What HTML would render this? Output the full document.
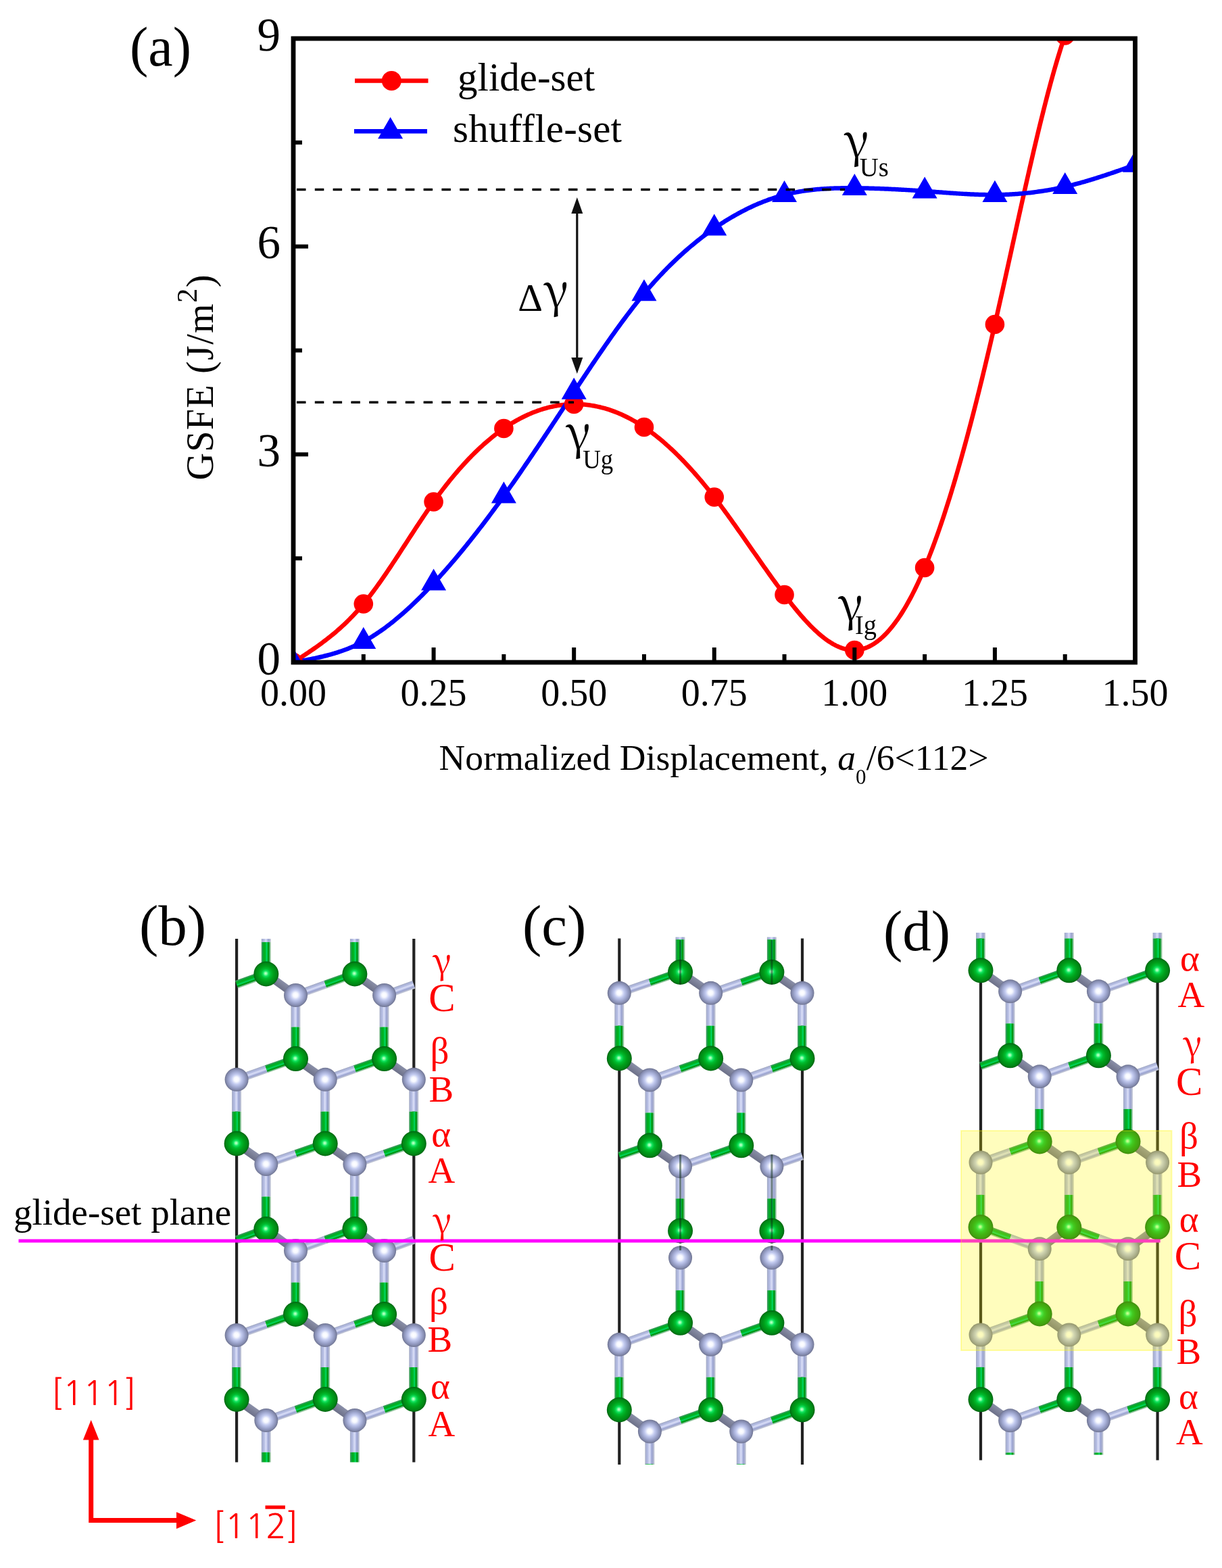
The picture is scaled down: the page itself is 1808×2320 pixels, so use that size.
<!DOCTYPE html>
<html><head><meta charset="utf-8"><style>
html,body{margin:0;padding:0;background:#fff;overflow:hidden;}
svg{display:block;}
</style></head><body>
<svg width="1808" height="2320" viewBox="0 0 1808 2320">
<defs><clipPath id="plotclip"><rect x="434" y="57" width="1245.5" height="923"/></clipPath>
<radialGradient id="gG" cx="0.5" cy="0.5" r="0.5" fx="0.48" fy="0.48">
 <stop offset="0" stop-color="#d0ffd8"/>
 <stop offset="0.1" stop-color="#80ffa0"/>
 <stop offset="0.22" stop-color="#10e35e"/>
 <stop offset="0.38" stop-color="#00bd30"/>
 <stop offset="0.6" stop-color="#00a01a"/>
 <stop offset="0.85" stop-color="#008716"/>
 <stop offset="1" stop-color="#006410"/>
</radialGradient>
<radialGradient id="gS" cx="0.5" cy="0.5" r="0.5" fx="0.49" fy="0.49">
 <stop offset="0" stop-color="#ffffff"/>
 <stop offset="0.2" stop-color="#f6f8ff"/>
 <stop offset="0.42" stop-color="#c3cbf0"/>
 <stop offset="0.66" stop-color="#a1a9d1"/>
 <stop offset="0.86" stop-color="#868db1"/>
 <stop offset="1" stop-color="#6f7491"/>
</radialGradient>
<linearGradient id="bG" x1="0" y1="0" x2="0" y2="1">
 <stop offset="0" stop-color="#4a9c5c"/>
 <stop offset="0.13" stop-color="#1fa050"/>
 <stop offset="0.22" stop-color="#00aa1e"/>
 <stop offset="0.44" stop-color="#00ba2a"/>
 <stop offset="0.55" stop-color="#00d868"/>
 <stop offset="0.64" stop-color="#00c040"/>
 <stop offset="0.72" stop-color="#009200"/>
 <stop offset="0.82" stop-color="#009c30"/>
 <stop offset="0.87" stop-color="#70b880"/>
 <stop offset="1" stop-color="#b4d4b8"/>
</linearGradient>
<linearGradient id="bS" x1="0" y1="0" x2="0" y2="1">
 <stop offset="0" stop-color="#a2a9c0"/>
 <stop offset="0.12" stop-color="#aab2d6"/>
 <stop offset="0.3" stop-color="#b6bee4"/>
 <stop offset="0.45" stop-color="#dadef6"/>
 <stop offset="0.58" stop-color="#c4cbee"/>
 <stop offset="0.72" stop-color="#9aa3d0"/>
 <stop offset="0.85" stop-color="#aab0d0"/>
 <stop offset="1" stop-color="#ccd0da"/>
</linearGradient>
<linearGradient id="bSd" x1="0" y1="0" x2="0" y2="1">
 <stop offset="0" stop-color="#8a8fa8"/>
 <stop offset="0.5" stop-color="#7c8098"/>
 <stop offset="1" stop-color="#6c7088"/>
</linearGradient>
<linearGradient id="bGd" x1="0" y1="0" x2="0" y2="1">
 <stop offset="0" stop-color="#007a14"/>
 <stop offset="0.5" stop-color="#006c10"/>
 <stop offset="1" stop-color="#005e0c"/>
</linearGradient>
</defs>
<rect width="100%" height="100%" fill="#fff"/>
<g clip-path="url(#plotclip)">
<path d="M434 980 L436.08 978.65 L438.16 977.3 L440.24 975.95 L442.32 974.6 L444.4 973.24 L446.48 971.88 L448.56 970.51 L450.63 969.14 L452.71 967.76 L454.79 966.37 L456.87 964.97 L458.95 963.56 L461.03 962.14 L463.11 960.71 L465.19 959.26 L467.27 957.8 L469.35 956.33 L471.43 954.84 L473.51 953.33 L475.59 951.81 L477.67 950.26 L479.74 948.7 L481.82 947.12 L483.9 945.52 L485.98 943.89 L488.06 942.24 L490.14 940.57 L492.22 938.87 L494.3 937.14 L496.38 935.39 L498.46 933.61 L500.54 931.81 L502.62 929.97 L504.7 928.1 L506.78 926.2 L508.85 924.27 L510.93 922.3 L513.01 920.3 L515.09 918.27 L517.17 916.2 L519.25 914.09 L521.33 911.94 L523.41 909.76 L525.49 907.53 L527.57 905.27 L529.65 902.96 L531.73 900.61 L533.81 898.21 L535.89 895.78 L537.96 893.29 L540.04 890.76 L542.12 888.19 L544.2 885.57 L546.28 882.91 L548.36 880.21 L550.44 877.47 L552.52 874.7 L554.6 871.89 L556.68 869.05 L558.76 866.17 L560.84 863.26 L562.92 860.32 L565 857.36 L567.08 854.37 L569.15 851.35 L571.23 848.31 L573.31 845.25 L575.39 842.17 L577.47 839.07 L579.55 835.95 L581.63 832.82 L583.71 829.68 L585.79 826.52 L587.87 823.35 L589.95 820.17 L592.03 816.98 L594.11 813.78 L596.19 810.58 L598.26 807.38 L600.34 804.17 L602.42 800.97 L604.5 797.76 L606.58 794.56 L608.66 791.37 L610.74 788.17 L612.82 784.99 L614.9 781.81 L616.98 778.65 L619.06 775.49 L621.14 772.35 L623.22 769.23 L625.3 766.12 L627.37 763.03 L629.45 759.95 L631.53 756.9 L633.61 753.87 L635.69 750.87 L637.77 747.89 L639.85 744.94 L641.93 742.01 L644.01 739.12 L646.09 736.26 L648.17 733.42 L650.25 730.62 L652.33 727.84 L654.41 725.1 L656.48 722.38 L658.56 719.7 L660.64 717.04 L662.72 714.42 L664.8 711.82 L666.88 709.25 L668.96 706.72 L671.04 704.21 L673.12 701.73 L675.2 699.28 L677.28 696.87 L679.36 694.48 L681.44 692.12 L683.52 689.79 L685.6 687.49 L687.67 685.22 L689.75 682.98 L691.83 680.77 L693.91 678.59 L695.99 676.44 L698.07 674.31 L700.15 672.22 L702.23 670.16 L704.31 668.12 L706.39 666.12 L708.47 664.15 L710.55 662.2 L712.63 660.29 L714.71 658.4 L716.78 656.54 L718.86 654.72 L720.94 652.92 L723.02 651.15 L725.1 649.41 L727.18 647.7 L729.26 646.02 L731.34 644.37 L733.42 642.75 L735.5 641.16 L737.58 639.6 L739.66 638.06 L741.74 636.56 L743.82 635.09 L745.89 633.64 L747.97 632.23 L750.05 630.84 L752.13 629.48 L754.21 628.15 L756.29 626.86 L758.37 625.59 L760.45 624.35 L762.53 623.13 L764.61 621.95 L766.69 620.8 L768.77 619.67 L770.85 618.58 L772.93 617.51 L775.01 616.47 L777.08 615.46 L779.16 614.48 L781.24 613.53 L783.32 612.61 L785.4 611.71 L787.48 610.85 L789.56 610.01 L791.64 609.2 L793.72 608.42 L795.8 607.67 L797.88 606.95 L799.96 606.25 L802.04 605.59 L804.12 604.95 L806.19 604.34 L808.27 603.76 L810.35 603.2 L812.43 602.68 L814.51 602.18 L816.59 601.71 L818.67 601.27 L820.75 600.86 L822.83 600.47 L824.91 600.11 L826.99 599.79 L829.07 599.48 L831.15 599.21 L833.23 598.96 L835.3 598.75 L837.38 598.56 L839.46 598.39 L841.54 598.26 L843.62 598.15 L845.7 598.07 L847.78 598.02 L849.86 597.99 L851.94 598 L854.02 598.03 L856.1 598.09 L858.18 598.17 L860.26 598.28 L862.34 598.42 L864.41 598.59 L866.49 598.79 L868.57 599.01 L870.65 599.26 L872.73 599.54 L874.81 599.85 L876.89 600.19 L878.97 600.55 L881.05 600.94 L883.13 601.36 L885.21 601.81 L887.29 602.29 L889.37 602.79 L891.45 603.32 L893.53 603.88 L895.6 604.47 L897.68 605.09 L899.76 605.73 L901.84 606.41 L903.92 607.11 L906 607.84 L908.08 608.6 L910.16 609.39 L912.24 610.2 L914.32 611.05 L916.4 611.92 L918.48 612.82 L920.56 613.75 L922.64 614.71 L924.71 615.7 L926.79 616.72 L928.87 617.76 L930.95 618.84 L933.03 619.94 L935.11 621.08 L937.19 622.24 L939.27 623.43 L941.35 624.65 L943.43 625.9 L945.51 627.18 L947.59 628.49 L949.67 629.82 L951.75 631.19 L953.82 632.59 L955.9 634.01 L957.98 635.46 L960.06 636.95 L962.14 638.46 L964.22 640 L966.3 641.57 L968.38 643.17 L970.46 644.79 L972.54 646.45 L974.62 648.13 L976.7 649.84 L978.78 651.58 L980.86 653.35 L982.93 655.14 L985.01 656.96 L987.09 658.81 L989.17 660.68 L991.25 662.59 L993.33 664.51 L995.41 666.47 L997.49 668.45 L999.57 670.46 L1001.65 672.49 L1003.73 674.56 L1005.81 676.64 L1007.89 678.75 L1009.97 680.89 L1012.05 683.06 L1014.12 685.25 L1016.2 687.46 L1018.28 689.7 L1020.36 691.97 L1022.44 694.25 L1024.52 696.57 L1026.6 698.91 L1028.68 701.27 L1030.76 703.66 L1032.84 706.07 L1034.92 708.51 L1037 710.97 L1039.08 713.45 L1041.16 715.96 L1043.23 718.49 L1045.31 721.04 L1047.39 723.62 L1049.47 726.22 L1051.55 728.84 L1053.63 731.49 L1055.71 734.16 L1057.79 736.85 L1059.87 739.56 L1061.95 742.3 L1064.03 745.05 L1066.11 747.82 L1068.19 750.62 L1070.27 753.43 L1072.34 756.25 L1074.42 759.1 L1076.5 761.96 L1078.58 764.83 L1080.66 767.72 L1082.74 770.61 L1084.82 773.52 L1086.9 776.45 L1088.98 779.38 L1091.06 782.32 L1093.14 785.27 L1095.22 788.22 L1097.3 791.18 L1099.38 794.15 L1101.45 797.13 L1103.53 800.1 L1105.61 803.08 L1107.69 806.07 L1109.77 809.05 L1111.85 812.03 L1113.93 815.02 L1116.01 818 L1118.09 820.98 L1120.17 823.96 L1122.25 826.94 L1124.33 829.9 L1126.41 832.87 L1128.49 835.83 L1130.57 838.78 L1132.64 841.72 L1134.72 844.65 L1136.8 847.58 L1138.88 850.49 L1140.96 853.39 L1143.04 856.28 L1145.12 859.16 L1147.2 862.02 L1149.28 864.87 L1151.36 867.7 L1153.44 870.52 L1155.52 873.32 L1157.6 876.1 L1159.68 878.86 L1161.75 881.6 L1163.83 884.31 L1165.91 887.01 L1167.99 889.68 L1170.07 892.33 L1172.15 894.95 L1174.23 897.54 L1176.31 900.1 L1178.39 902.63 L1180.47 905.13 L1182.55 907.6 L1184.63 910.02 L1186.71 912.42 L1188.79 914.77 L1190.86 917.08 L1192.94 919.35 L1195.02 921.58 L1197.1 923.77 L1199.18 925.91 L1201.26 928 L1203.34 930.05 L1205.42 932.05 L1207.5 933.99 L1209.58 935.88 L1211.66 937.72 L1213.74 939.5 L1215.82 941.23 L1217.9 942.9 L1219.97 944.51 L1222.05 946.06 L1224.13 947.54 L1226.21 948.96 L1228.29 950.32 L1230.37 951.61 L1232.45 952.83 L1234.53 953.98 L1236.61 955.06 L1238.69 956.07 L1240.77 957 L1242.85 957.86 L1244.93 958.65 L1247.01 959.35 L1249.09 959.98 L1251.16 960.52 L1253.24 960.98 L1255.32 961.36 L1257.4 961.66 L1259.48 961.86 L1261.56 961.98 L1263.64 962.01 L1265.72 961.95 L1267.8 961.8 L1269.88 961.55 L1271.96 961.21 L1274.04 960.79 L1276.12 960.26 L1278.2 959.65 L1280.27 958.94 L1282.35 958.14 L1284.43 957.24 L1286.51 956.25 L1288.59 955.17 L1290.67 953.99 L1292.75 952.72 L1294.83 951.35 L1296.91 949.89 L1298.99 948.33 L1301.07 946.67 L1303.15 944.92 L1305.23 943.07 L1307.31 941.12 L1309.38 939.08 L1311.46 936.94 L1313.54 934.7 L1315.62 932.37 L1317.7 929.93 L1319.78 927.4 L1321.86 924.77 L1323.94 922.03 L1326.02 919.2 L1328.1 916.27 L1330.18 913.24 L1332.26 910.11 L1334.34 906.88 L1336.42 903.54 L1338.49 900.11 L1340.57 896.57 L1342.65 892.94 L1344.73 889.2 L1346.81 885.35 L1348.89 881.41 L1350.97 877.36 L1353.05 873.21 L1355.13 868.96 L1357.21 864.6 L1359.29 860.13 L1361.37 855.57 L1363.45 850.9 L1365.53 846.12 L1367.61 841.24 L1369.68 836.25 L1371.76 831.16 L1373.84 825.96 L1375.92 820.66 L1378 815.26 L1380.08 809.76 L1382.16 804.15 L1384.24 798.45 L1386.32 792.65 L1388.4 786.75 L1390.48 780.76 L1392.56 774.67 L1394.64 768.48 L1396.72 762.2 L1398.79 755.83 L1400.87 749.37 L1402.95 742.81 L1405.03 736.17 L1407.11 729.43 L1409.19 722.61 L1411.27 715.7 L1413.35 708.7 L1415.43 701.62 L1417.51 694.46 L1419.59 687.21 L1421.67 679.88 L1423.75 672.46 L1425.83 664.97 L1427.9 657.39 L1429.98 649.74 L1432.06 642.01 L1434.14 634.2 L1436.22 626.31 L1438.3 618.35 L1440.38 610.32 L1442.46 602.21 L1444.54 594.03 L1446.62 585.78 L1448.7 577.46 L1450.78 569.06 L1452.86 560.6 L1454.94 552.07 L1457.02 543.48 L1459.09 534.82 L1461.17 526.09 L1463.25 517.3 L1465.33 508.44 L1467.41 499.53 L1469.49 490.55 L1471.57 481.51 L1473.65 472.41 L1475.73 463.26 L1477.81 454.06 L1479.89 444.81 L1481.97 435.52 L1484.05 426.2 L1486.13 416.84 L1488.2 407.45 L1490.28 398.05 L1492.36 388.63 L1494.44 379.19 L1496.52 369.75 L1498.6 360.31 L1500.68 350.87 L1502.76 341.43 L1504.84 332.01 L1506.92 322.6 L1509 313.22 L1511.08 303.86 L1513.16 294.53 L1515.24 285.24 L1517.31 275.99 L1519.39 266.79 L1521.47 257.63 L1523.55 248.53 L1525.63 239.49 L1527.71 230.52 L1529.79 221.61 L1531.87 212.78 L1533.95 204.03 L1536.03 195.36 L1538.11 186.78 L1540.19 178.3 L1542.27 169.91 L1544.35 161.62 L1546.42 153.45 L1548.5 145.38 L1550.58 137.44 L1552.66 129.62 L1554.74 121.92 L1556.82 114.35 L1558.9 106.93 L1560.98 99.64 L1563.06 92.5 L1565.14 85.51 L1567.22 78.68 L1569.3 72.01 L1571.38 65.5 L1573.46 59.17 L1575.54 53.01 L1577.61 47.02 L1579.69 41.22 L1581.77 35.59 L1583.85 30.13 L1585.93 24.83 L1588.01 19.7 L1590.09 14.72 L1592.17 9.91 L1594.25 5.24 L1596.33 0.72 L1598.41 -3.65 L1600.49 -7.88 L1602.57 -11.98 L1604.65 -15.94 L1606.72 -19.77 L1608.8 -23.48 L1610.88 -27.06 L1612.96 -30.52 L1615.04 -33.87 L1617.12 -37.11 L1619.2 -40.23 L1621.28 -43.26 L1623.36 -46.18 L1625.44 -49 L1627.52 -51.73 L1629.6 -54.37 L1631.68 -56.92 L1633.76 -59.39 L1635.83 -61.78 L1637.91 -64.09 L1639.99 -66.34 L1642.07 -68.51 L1644.15 -70.62 L1646.23 -72.66 L1648.31 -74.65 L1650.39 -76.59 L1652.47 -78.47 L1654.55 -80.31 L1656.63 -82.1 L1658.71 -83.85 L1660.79 -85.57 L1662.87 -87.26 L1664.94 -88.91 L1667.02 -90.54 L1669.1 -92.15 L1671.18 -93.74 L1673.26 -95.32 L1675.34 -96.89 L1677.42 -98.44 L1679.5 -100" fill="none" stroke="#ff0000" stroke-width="6.5" stroke-linejoin="round"/>
<path d="M434 980 L436.08 979.63 L438.16 979.26 L440.24 978.88 L442.32 978.51 L444.4 978.13 L446.48 977.75 L448.56 977.37 L450.63 976.98 L452.71 976.59 L454.79 976.19 L456.87 975.79 L458.95 975.38 L461.03 974.96 L463.11 974.53 L465.19 974.1 L467.27 973.66 L469.35 973.2 L471.43 972.74 L473.51 972.27 L475.59 971.79 L477.67 971.29 L479.74 970.78 L481.82 970.26 L483.9 969.73 L485.98 969.18 L488.06 968.61 L490.14 968.04 L492.22 967.44 L494.3 966.83 L496.38 966.2 L498.46 965.55 L500.54 964.89 L502.62 964.2 L504.7 963.5 L506.78 962.78 L508.85 962.03 L510.93 961.27 L513.01 960.48 L515.09 959.67 L517.17 958.84 L519.25 957.98 L521.33 957.1 L523.41 956.19 L525.49 955.26 L527.57 954.31 L529.65 953.32 L531.73 952.31 L533.81 951.27 L535.89 950.2 L537.96 949.11 L540.04 947.98 L542.12 946.83 L544.2 945.64 L546.28 944.43 L548.36 943.19 L550.44 941.92 L552.52 940.62 L554.6 939.3 L556.68 937.95 L558.76 936.57 L560.84 935.16 L562.92 933.73 L565 932.27 L567.08 930.79 L569.15 929.28 L571.23 927.74 L573.31 926.18 L575.39 924.6 L577.47 922.99 L579.55 921.36 L581.63 919.7 L583.71 918.02 L585.79 916.31 L587.87 914.59 L589.95 912.84 L592.03 911.07 L594.11 909.27 L596.19 907.45 L598.26 905.62 L600.34 903.76 L602.42 901.88 L604.5 899.98 L606.58 898.05 L608.66 896.11 L610.74 894.15 L612.82 892.17 L614.9 890.17 L616.98 888.15 L619.06 886.11 L621.14 884.05 L623.22 881.98 L625.3 879.89 L627.37 877.77 L629.45 875.65 L631.53 873.5 L633.61 871.34 L635.69 869.16 L637.77 866.97 L639.85 864.75 L641.93 862.53 L644.01 860.29 L646.09 858.03 L648.17 855.76 L650.25 853.47 L652.33 851.16 L654.41 848.85 L656.48 846.51 L658.56 844.17 L660.64 841.8 L662.72 839.43 L664.8 837.03 L666.88 834.63 L668.96 832.21 L671.04 829.77 L673.12 827.32 L675.2 824.86 L677.28 822.38 L679.36 819.89 L681.44 817.38 L683.52 814.86 L685.6 812.33 L687.67 809.78 L689.75 807.22 L691.83 804.64 L693.91 802.05 L695.99 799.45 L698.07 796.83 L700.15 794.21 L702.23 791.56 L704.31 788.91 L706.39 786.24 L708.47 783.56 L710.55 780.87 L712.63 778.16 L714.71 775.44 L716.78 772.71 L718.86 769.96 L720.94 767.21 L723.02 764.44 L725.1 761.65 L727.18 758.86 L729.26 756.05 L731.34 753.23 L733.42 750.4 L735.5 747.56 L737.58 744.71 L739.66 741.84 L741.74 738.96 L743.82 736.07 L745.89 733.17 L747.97 730.26 L750.05 727.34 L752.13 724.4 L754.21 721.46 L756.29 718.5 L758.37 715.54 L760.45 712.56 L762.53 709.58 L764.61 706.58 L766.69 703.58 L768.77 700.57 L770.85 697.55 L772.93 694.52 L775.01 691.48 L777.08 688.44 L779.16 685.39 L781.24 682.33 L783.32 679.26 L785.4 676.19 L787.48 673.11 L789.56 670.02 L791.64 666.93 L793.72 663.84 L795.8 660.73 L797.88 657.63 L799.96 654.51 L802.04 651.4 L804.12 648.28 L806.19 645.15 L808.27 642.02 L810.35 638.89 L812.43 635.75 L814.51 632.62 L816.59 629.47 L818.67 626.33 L820.75 623.18 L822.83 620.04 L824.91 616.89 L826.99 613.73 L829.07 610.58 L831.15 607.43 L833.23 604.27 L835.3 601.12 L837.38 597.97 L839.46 594.81 L841.54 591.66 L843.62 588.5 L845.7 585.35 L847.78 582.2 L849.86 579.05 L851.94 575.9 L854.02 572.76 L856.1 569.61 L858.18 566.47 L860.26 563.34 L862.34 560.2 L864.41 557.08 L866.49 553.95 L868.57 550.84 L870.65 547.73 L872.73 544.62 L874.81 541.52 L876.89 538.43 L878.97 535.35 L881.05 532.28 L883.13 529.21 L885.21 526.15 L887.29 523.11 L889.37 520.07 L891.45 517.04 L893.53 514.03 L895.6 511.02 L897.68 508.03 L899.76 505.05 L901.84 502.09 L903.92 499.13 L906 496.19 L908.08 493.27 L910.16 490.36 L912.24 487.46 L914.32 484.58 L916.4 481.72 L918.48 478.87 L920.56 476.04 L922.64 473.23 L924.71 470.44 L926.79 467.66 L928.87 464.9 L930.95 462.17 L933.03 459.45 L935.11 456.75 L937.19 454.07 L939.27 451.42 L941.35 448.79 L943.43 446.17 L945.51 443.58 L947.59 441.02 L949.67 438.48 L951.75 435.96 L953.82 433.46 L955.9 430.99 L957.98 428.55 L960.06 426.13 L962.14 423.73 L964.22 421.36 L966.3 419.01 L968.38 416.69 L970.46 414.39 L972.54 412.11 L974.62 409.86 L976.7 407.63 L978.78 405.42 L980.86 403.23 L982.93 401.07 L985.01 398.93 L987.09 396.81 L989.17 394.72 L991.25 392.65 L993.33 390.6 L995.41 388.57 L997.49 386.56 L999.57 384.58 L1001.65 382.61 L1003.73 380.67 L1005.81 378.75 L1007.89 376.85 L1009.97 374.97 L1012.05 373.11 L1014.12 371.28 L1016.2 369.46 L1018.28 367.66 L1020.36 365.88 L1022.44 364.13 L1024.52 362.39 L1026.6 360.67 L1028.68 358.98 L1030.76 357.3 L1032.84 355.64 L1034.92 354 L1037 352.38 L1039.08 350.78 L1041.16 349.19 L1043.23 347.63 L1045.31 346.08 L1047.39 344.55 L1049.47 343.04 L1051.55 341.55 L1053.63 340.08 L1055.71 338.62 L1057.79 337.18 L1059.87 335.76 L1061.95 334.36 L1064.03 332.97 L1066.11 331.6 L1068.19 330.25 L1070.27 328.92 L1072.34 327.6 L1074.42 326.3 L1076.5 325.02 L1078.58 323.76 L1080.66 322.52 L1082.74 321.29 L1084.82 320.08 L1086.9 318.89 L1088.98 317.71 L1091.06 316.56 L1093.14 315.42 L1095.22 314.3 L1097.3 313.19 L1099.38 312.11 L1101.45 311.04 L1103.53 309.99 L1105.61 308.96 L1107.69 307.95 L1109.77 306.95 L1111.85 305.98 L1113.93 305.02 L1116.01 304.08 L1118.09 303.15 L1120.17 302.25 L1122.25 301.36 L1124.33 300.49 L1126.41 299.64 L1128.49 298.81 L1130.57 298 L1132.64 297.2 L1134.72 296.42 L1136.8 295.66 L1138.88 294.92 L1140.96 294.2 L1143.04 293.5 L1145.12 292.81 L1147.2 292.14 L1149.28 291.49 L1151.36 290.86 L1153.44 290.25 L1155.52 289.66 L1157.6 289.08 L1159.68 288.53 L1161.75 287.99 L1163.83 287.47 L1165.91 286.97 L1167.99 286.48 L1170.07 286.02 L1172.15 285.57 L1174.23 285.14 L1176.31 284.72 L1178.39 284.32 L1180.47 283.94 L1182.55 283.57 L1184.63 283.22 L1186.71 282.88 L1188.79 282.56 L1190.86 282.25 L1192.94 281.96 L1195.02 281.68 L1197.1 281.41 L1199.18 281.16 L1201.26 280.92 L1203.34 280.69 L1205.42 280.48 L1207.5 280.27 L1209.58 280.08 L1211.66 279.9 L1213.74 279.74 L1215.82 279.58 L1217.9 279.43 L1219.97 279.3 L1222.05 279.17 L1224.13 279.05 L1226.21 278.95 L1228.29 278.85 L1230.37 278.76 L1232.45 278.68 L1234.53 278.61 L1236.61 278.54 L1238.69 278.49 L1240.77 278.44 L1242.85 278.4 L1244.93 278.36 L1247.01 278.33 L1249.09 278.31 L1251.16 278.29 L1253.24 278.28 L1255.32 278.27 L1257.4 278.27 L1259.48 278.28 L1261.56 278.28 L1263.64 278.3 L1265.72 278.31 L1267.8 278.33 L1269.88 278.35 L1271.96 278.38 L1274.04 278.41 L1276.12 278.44 L1278.2 278.48 L1280.27 278.52 L1282.35 278.56 L1284.43 278.61 L1286.51 278.66 L1288.59 278.71 L1290.67 278.77 L1292.75 278.83 L1294.83 278.89 L1296.91 278.96 L1298.99 279.03 L1301.07 279.1 L1303.15 279.18 L1305.23 279.25 L1307.31 279.34 L1309.38 279.42 L1311.46 279.51 L1313.54 279.6 L1315.62 279.69 L1317.7 279.78 L1319.78 279.88 L1321.86 279.98 L1323.94 280.08 L1326.02 280.19 L1328.1 280.3 L1330.18 280.41 L1332.26 280.52 L1334.34 280.63 L1336.42 280.75 L1338.49 280.87 L1340.57 280.99 L1342.65 281.12 L1344.73 281.24 L1346.81 281.37 L1348.89 281.5 L1350.97 281.63 L1353.05 281.77 L1355.13 281.9 L1357.21 282.04 L1359.29 282.18 L1361.37 282.33 L1363.45 282.47 L1365.53 282.62 L1367.61 282.76 L1369.68 282.91 L1371.76 283.06 L1373.84 283.22 L1375.92 283.37 L1378 283.52 L1380.08 283.68 L1382.16 283.83 L1384.24 283.99 L1386.32 284.15 L1388.4 284.3 L1390.48 284.46 L1392.56 284.61 L1394.64 284.77 L1396.72 284.92 L1398.79 285.07 L1400.87 285.23 L1402.95 285.38 L1405.03 285.52 L1407.11 285.67 L1409.19 285.81 L1411.27 285.96 L1413.35 286.1 L1415.43 286.23 L1417.51 286.37 L1419.59 286.5 L1421.67 286.63 L1423.75 286.75 L1425.83 286.87 L1427.9 286.99 L1429.98 287.1 L1432.06 287.21 L1434.14 287.32 L1436.22 287.42 L1438.3 287.51 L1440.38 287.6 L1442.46 287.68 L1444.54 287.76 L1446.62 287.84 L1448.7 287.9 L1450.78 287.97 L1452.86 288.02 L1454.94 288.07 L1457.02 288.11 L1459.09 288.15 L1461.17 288.17 L1463.25 288.2 L1465.33 288.21 L1467.41 288.21 L1469.49 288.21 L1471.57 288.2 L1473.65 288.18 L1475.73 288.16 L1477.81 288.12 L1479.89 288.08 L1481.97 288.03 L1484.05 287.97 L1486.13 287.9 L1488.2 287.82 L1490.28 287.73 L1492.36 287.64 L1494.44 287.54 L1496.52 287.42 L1498.6 287.3 L1500.68 287.17 L1502.76 287.04 L1504.84 286.89 L1506.92 286.73 L1509 286.57 L1511.08 286.39 L1513.16 286.21 L1515.24 286.02 L1517.31 285.82 L1519.39 285.61 L1521.47 285.39 L1523.55 285.16 L1525.63 284.92 L1527.71 284.67 L1529.79 284.42 L1531.87 284.15 L1533.95 283.88 L1536.03 283.59 L1538.11 283.3 L1540.19 282.99 L1542.27 282.68 L1544.35 282.36 L1546.42 282.03 L1548.5 281.68 L1550.58 281.33 L1552.66 280.97 L1554.74 280.6 L1556.82 280.22 L1558.9 279.83 L1560.98 279.43 L1563.06 279.02 L1565.14 278.59 L1567.22 278.16 L1569.3 277.72 L1571.38 277.27 L1573.46 276.81 L1575.54 276.34 L1577.61 275.86 L1579.69 275.37 L1581.77 274.87 L1583.85 274.35 L1585.93 273.83 L1588.01 273.3 L1590.09 272.77 L1592.17 272.22 L1594.25 271.66 L1596.33 271.1 L1598.41 270.53 L1600.49 269.95 L1602.57 269.36 L1604.65 268.76 L1606.72 268.16 L1608.8 267.55 L1610.88 266.93 L1612.96 266.31 L1615.04 265.68 L1617.12 265.04 L1619.2 264.4 L1621.28 263.75 L1623.36 263.09 L1625.44 262.43 L1627.52 261.77 L1629.6 261.1 L1631.68 260.42 L1633.76 259.74 L1635.83 259.06 L1637.91 258.37 L1639.99 257.67 L1642.07 256.98 L1644.15 256.28 L1646.23 255.57 L1648.31 254.87 L1650.39 254.15 L1652.47 253.44 L1654.55 252.73 L1656.63 252.01 L1658.71 251.29 L1660.79 250.56 L1662.87 249.84 L1664.94 249.11 L1667.02 248.38 L1669.1 247.66 L1671.18 246.93 L1673.26 246.2 L1675.34 245.46 L1677.42 244.73 L1679.5 244" fill="none" stroke="#0000ff" stroke-width="6.5" stroke-linejoin="round"/>
<circle cx="434" cy="980" r="14.3" fill="#ff0000"/>
<circle cx="537.79" cy="893.5" r="14.3" fill="#ff0000"/>
<circle cx="641.58" cy="742.5" r="14.3" fill="#ff0000"/>
<circle cx="745.38" cy="634" r="14.3" fill="#ff0000"/>
<circle cx="849.17" cy="598" r="14.3" fill="#ff0000"/>
<circle cx="952.96" cy="632" r="14.3" fill="#ff0000"/>
<circle cx="1056.75" cy="735.5" r="14.3" fill="#ff0000"/>
<circle cx="1160.54" cy="880" r="14.3" fill="#ff0000"/>
<circle cx="1264.33" cy="962" r="14.3" fill="#ff0000"/>
<circle cx="1368.12" cy="840" r="14.3" fill="#ff0000"/>
<circle cx="1471.92" cy="480" r="14.3" fill="#ff0000"/>
<circle cx="1575.71" cy="52.5" r="14.3" fill="#ff0000"/>
<circle cx="1679.5" cy="-100" r="14.3" fill="#ff0000"/>
<path d="M434 958.64 L452.5 990.68 L415.5 990.68 Z" fill="#0000ff"/>
<path d="M537.79 927.84 L556.29 959.88 L519.29 959.88 Z" fill="#0000ff"/>
<path d="M641.58 841.54 L660.08 873.58 L623.08 873.58 Z" fill="#0000ff"/>
<path d="M745.38 712.54 L763.88 744.58 L726.88 744.58 Z" fill="#0000ff"/>
<path d="M849.17 558.74 L867.67 590.78 L830.67 590.78 Z" fill="#0000ff"/>
<path d="M952.96 413.14 L971.46 445.18 L934.46 445.18 Z" fill="#0000ff"/>
<path d="M1056.75 316.54 L1075.25 348.58 L1038.25 348.58 Z" fill="#0000ff"/>
<path d="M1160.54 266.94 L1179.04 298.98 L1142.04 298.98 Z" fill="#0000ff"/>
<path d="M1264.33 256.94 L1282.83 288.98 L1245.83 288.98 Z" fill="#0000ff"/>
<path d="M1368.12 261.44 L1386.62 293.48 L1349.62 293.48 Z" fill="#0000ff"/>
<path d="M1471.92 266.84 L1490.42 298.88 L1453.42 298.88 Z" fill="#0000ff"/>
<path d="M1575.71 254.94 L1594.21 286.98 L1557.21 286.98 Z" fill="#0000ff"/>
<path d="M1679.5 222.64 L1698 254.68 L1661 254.68 Z" fill="#0000ff"/>
</g>
<line x1="439" y1="280.5" x2="1250" y2="280.5" stroke="#000" stroke-width="3.6" stroke-dasharray="13.5 13.3"/>
<line x1="439" y1="595.3" x2="849" y2="595.3" stroke="#000" stroke-width="3.6" stroke-dasharray="13.5 13.3"/>
<line x1="853.8" y1="305" x2="853.8" y2="540" stroke="#111" stroke-width="3.2"/>
<path d="M853.8 292 L862.3 316 L845.3 316 Z" fill="#111"/>
<path d="M853.8 553 L862.3 529 L845.3 529 Z" fill="#111"/>
<rect x="434" y="57" width="1245.5" height="923" fill="none" stroke="#000" stroke-width="6.8"/>
<line x1="434" y1="826.17" x2="447" y2="826.17" stroke="#000" stroke-width="6"/>
<line x1="434" y1="672.33" x2="456" y2="672.33" stroke="#000" stroke-width="6"/>
<line x1="434" y1="518.5" x2="447" y2="518.5" stroke="#000" stroke-width="6"/>
<line x1="434" y1="364.67" x2="456" y2="364.67" stroke="#000" stroke-width="6"/>
<line x1="434" y1="210.83" x2="447" y2="210.83" stroke="#000" stroke-width="6"/>
<line x1="537.79" y1="980" x2="537.79" y2="968" stroke="#000" stroke-width="6"/>
<line x1="641.58" y1="980" x2="641.58" y2="958" stroke="#000" stroke-width="6"/>
<line x1="745.38" y1="980" x2="745.38" y2="968" stroke="#000" stroke-width="6"/>
<line x1="849.17" y1="980" x2="849.17" y2="958" stroke="#000" stroke-width="6"/>
<line x1="952.96" y1="980" x2="952.96" y2="968" stroke="#000" stroke-width="6"/>
<line x1="1056.75" y1="980" x2="1056.75" y2="958" stroke="#000" stroke-width="6"/>
<line x1="1160.54" y1="980" x2="1160.54" y2="968" stroke="#000" stroke-width="6"/>
<line x1="1264.33" y1="980" x2="1264.33" y2="958" stroke="#000" stroke-width="6"/>
<line x1="1368.12" y1="980" x2="1368.12" y2="968" stroke="#000" stroke-width="6"/>
<line x1="1471.92" y1="980" x2="1471.92" y2="958" stroke="#000" stroke-width="6"/>
<line x1="1575.71" y1="980" x2="1575.71" y2="968" stroke="#000" stroke-width="6"/>
<text x="415" y="997.5" font-family="'Liberation Serif', 'Times New Roman', serif" font-size="69" text-anchor="end">0</text>
<text x="415" y="689.83" font-family="'Liberation Serif', 'Times New Roman', serif" font-size="69" text-anchor="end">3</text>
<text x="415" y="382.17" font-family="'Liberation Serif', 'Times New Roman', serif" font-size="69" text-anchor="end">6</text>
<text x="415" y="74.5" font-family="'Liberation Serif', 'Times New Roman', serif" font-size="69" text-anchor="end">9</text>
<text x="434" y="1043.5" font-family="'Liberation Serif', 'Times New Roman', serif" font-size="56" text-anchor="middle">0.00</text>
<text x="641.58" y="1043.5" font-family="'Liberation Serif', 'Times New Roman', serif" font-size="56" text-anchor="middle">0.25</text>
<text x="849.17" y="1043.5" font-family="'Liberation Serif', 'Times New Roman', serif" font-size="56" text-anchor="middle">0.50</text>
<text x="1056.75" y="1043.5" font-family="'Liberation Serif', 'Times New Roman', serif" font-size="56" text-anchor="middle">0.75</text>
<text x="1264.33" y="1043.5" font-family="'Liberation Serif', 'Times New Roman', serif" font-size="56" text-anchor="middle">1.00</text>
<text x="1471.92" y="1043.5" font-family="'Liberation Serif', 'Times New Roman', serif" font-size="56" text-anchor="middle">1.25</text>
<text x="1679.5" y="1043.5" font-family="'Liberation Serif', 'Times New Roman', serif" font-size="56" text-anchor="middle">1.50</text>
<text transform="translate(314.5,710.5) rotate(-90)" font-family="'Liberation Serif', 'Times New Roman', serif" font-size="56" textLength="304" lengthAdjust="spacing">GSFE (J/m<tspan font-size="43" dy="-24">2</tspan><tspan dy="24">)</tspan></text>
<text x="649.6" y="1139.4" font-family="'Liberation Serif', 'Times New Roman', serif" font-size="53.5" textLength="813" lengthAdjust="spacing">Normalized Displacement, <tspan font-style="italic">a</tspan><tspan font-size="31" dy="21">0</tspan><tspan dy="-21">/6&lt;112&gt;</tspan></text>
<text x="192" y="96.5" font-family="'Liberation Serif', 'Times New Roman', serif" font-size="82">(a)</text>
<line x1="525" y1="119.4" x2="633.5" y2="119.4" stroke="#ff0000" stroke-width="6.5"/>
<circle cx="579.3" cy="119.4" r="14.5" fill="#ff0000"/>
<line x1="524" y1="194.3" x2="632" y2="194.3" stroke="#0000ff" stroke-width="6.5"/>
<path d="M577.6 173.24 L596.1 205.28 L559.1 205.28 Z" fill="#0000ff"/>
<text x="677" y="133.5" font-family="'Liberation Serif', 'Times New Roman', serif" font-size="59">glide-set</text>
<text x="670" y="210" font-family="'Liberation Serif', 'Times New Roman', serif" font-size="59" textLength="250" lengthAdjust="spacing">shuffle-set</text>
<text x="836.8" y="665.2" font-family="'Noto Serif CJK SC', 'Noto Serif CJK JP', serif" font-size="70">&#947;</text>
<text x="862.2" y="693.4" font-family="'Liberation Serif', 'Times New Roman', serif" font-size="40" textLength="45" lengthAdjust="spacingAndGlyphs">Ug</text>
<text x="1239.7" y="919" font-family="'Noto Serif CJK SC', 'Noto Serif CJK JP', serif" font-size="70">&#947;</text>
<text x="1265" y="938" font-family="'Liberation Serif', 'Times New Roman', serif" font-size="40" textLength="32" lengthAdjust="spacingAndGlyphs">Ig</text>
<text x="1248.5" y="232.8" font-family="'Noto Serif CJK SC', 'Noto Serif CJK JP', serif" font-size="70">&#947;</text>
<text x="1271.8" y="261" font-family="'Liberation Serif', 'Times New Roman', serif" font-size="40" textLength="43" lengthAdjust="spacingAndGlyphs">Us</text>
<text x="766.3" y="459.5" font-family="'Liberation Serif', 'Times New Roman', serif" font-size="57">&#916;</text>
<text x="804" y="454.5" font-family="'Noto Serif CJK SC', 'Noto Serif CJK JP', serif" font-size="70">&#947;</text>
<clipPath id="clipb"><rect x="0" y="1389" width="1808" height="774.5"/></clipPath>
<line x1="350.1" y1="1389" x2="350.1" y2="2163.5" stroke="#222" stroke-width="4.2"/>
<line x1="612.3" y1="1389" x2="612.3" y2="2163.5" stroke="#222" stroke-width="4.2"/>
<g clip-path="url(#clipb)">
<rect x="0" y="-6" width="53.87" height="12" fill="url(#bSd)" transform="translate(393.8 1441) rotate(35.78)"/>
<rect x="0" y="-6" width="46.45" height="12" fill="url(#bG)" transform="translate(350.1 1456.75) rotate(-19.82)"/>
<rect x="0" y="-6" width="53.87" height="12" fill="url(#bSd)" transform="translate(524.9 1441) rotate(35.78)"/>
<rect x="0" y="-6" width="46.45" height="12" fill="url(#bG)" transform="translate(481.2 1456.75) rotate(-19.82)"/>
<rect x="0" y="-6" width="46.45" height="12" fill="url(#bS)" transform="translate(437.5 1472.5) rotate(-19.82)"/>
<rect x="0" y="-6" width="46.45" height="12" fill="url(#bS)" transform="translate(568.6 1472.5) rotate(-19.82)"/>
<rect x="0" y="-7" width="47.25" height="14" fill="url(#bG)" transform="translate(393.8 1441) rotate(-90)"/>
<rect x="0" y="-7" width="47.25" height="14" fill="url(#bS)" transform="translate(393.8 1393.75) rotate(-90)"/>
<rect x="0" y="-7" width="47.25" height="14" fill="url(#bG)" transform="translate(524.9 1441) rotate(-90)"/>
<rect x="0" y="-7" width="47.25" height="14" fill="url(#bS)" transform="translate(524.9 1393.75) rotate(-90)"/>
<rect x="0" y="-7" width="47.05" height="14" fill="url(#bS)" transform="translate(437.5 1519.55) rotate(-90)"/>
<rect x="0" y="-7" width="47.05" height="14" fill="url(#bG)" transform="translate(437.5 1566.6) rotate(-90)"/>
<rect x="0" y="-7" width="47.05" height="14" fill="url(#bS)" transform="translate(568.6 1519.55) rotate(-90)"/>
<rect x="0" y="-7" width="47.05" height="14" fill="url(#bG)" transform="translate(568.6 1566.6) rotate(-90)"/>
<rect x="0" y="-6" width="53.41" height="12" fill="url(#bSd)" transform="translate(437.5 1566.6) rotate(35.09)"/>
<rect x="0" y="-6" width="46.32" height="12" fill="url(#bG)" transform="translate(393.8 1581.95) rotate(-19.35)"/>
<rect x="0" y="-6" width="46.32" height="12" fill="url(#bS)" transform="translate(350.1 1597.3) rotate(-19.35)"/>
<rect x="0" y="-6" width="53.41" height="12" fill="url(#bSd)" transform="translate(568.6 1566.6) rotate(35.09)"/>
<rect x="0" y="-6" width="46.32" height="12" fill="url(#bG)" transform="translate(524.9 1581.95) rotate(-19.35)"/>
<rect x="0" y="-6" width="46.32" height="12" fill="url(#bS)" transform="translate(481.2 1597.3) rotate(-19.35)"/>
<rect x="0" y="-7" width="47.35" height="14" fill="url(#bS)" transform="translate(350.1 1644.65) rotate(-90)"/>
<rect x="0" y="-7" width="47.35" height="14" fill="url(#bG)" transform="translate(350.1 1692) rotate(-90)"/>
<rect x="0" y="-7" width="47.35" height="14" fill="url(#bS)" transform="translate(481.2 1644.65) rotate(-90)"/>
<rect x="0" y="-7" width="47.35" height="14" fill="url(#bG)" transform="translate(481.2 1692) rotate(-90)"/>
<rect x="0" y="-7" width="47.35" height="14" fill="url(#bS)" transform="translate(612.3 1644.65) rotate(-90)"/>
<rect x="0" y="-7" width="47.35" height="14" fill="url(#bG)" transform="translate(612.3 1692) rotate(-90)"/>
<rect x="0" y="-6" width="53.29" height="12" fill="url(#bSd)" transform="translate(350.1 1692) rotate(34.91)"/>
<rect x="0" y="-6" width="53.29" height="12" fill="url(#bSd)" transform="translate(481.2 1692) rotate(34.91)"/>
<rect x="0" y="-6" width="46.28" height="12" fill="url(#bG)" transform="translate(437.5 1707.25) rotate(-19.24)"/>
<rect x="0" y="-6" width="46.28" height="12" fill="url(#bS)" transform="translate(393.8 1722.5) rotate(-19.24)"/>
<rect x="0" y="-6" width="46.28" height="12" fill="url(#bG)" transform="translate(568.6 1707.25) rotate(-19.24)"/>
<rect x="0" y="-6" width="46.28" height="12" fill="url(#bS)" transform="translate(524.9 1722.5) rotate(-19.24)"/>
<rect x="0" y="-7" width="48" height="14" fill="url(#bS)" transform="translate(393.8 1770.5) rotate(-90)"/>
<rect x="0" y="-7" width="48" height="14" fill="url(#bG)" transform="translate(393.8 1818.5) rotate(-90)"/>
<rect x="0" y="-7" width="48" height="14" fill="url(#bS)" transform="translate(524.9 1770.5) rotate(-90)"/>
<rect x="0" y="-7" width="48" height="14" fill="url(#bG)" transform="translate(524.9 1818.5) rotate(-90)"/>
<rect x="0" y="-6" width="54.16" height="12" fill="url(#bSd)" transform="translate(393.8 1818.5) rotate(36.21)"/>
<rect x="0" y="-6" width="46.54" height="12" fill="url(#bG)" transform="translate(350.1 1834.5) rotate(-20.11)"/>
<rect x="0" y="-6" width="54.16" height="12" fill="url(#bSd)" transform="translate(524.9 1818.5) rotate(36.21)"/>
<rect x="0" y="-6" width="46.54" height="12" fill="url(#bG)" transform="translate(481.2 1834.5) rotate(-20.11)"/>
<rect x="0" y="-6" width="46.54" height="12" fill="url(#bS)" transform="translate(437.5 1850.5) rotate(-20.11)"/>
<rect x="0" y="-6" width="46.54" height="12" fill="url(#bS)" transform="translate(568.6 1850.5) rotate(-20.11)"/>
<rect x="0" y="-7" width="47" height="14" fill="url(#bS)" transform="translate(437.5 1897.5) rotate(-90)"/>
<rect x="0" y="-7" width="47" height="14" fill="url(#bG)" transform="translate(437.5 1944.5) rotate(-90)"/>
<rect x="0" y="-7" width="47" height="14" fill="url(#bS)" transform="translate(568.6 1897.5) rotate(-90)"/>
<rect x="0" y="-7" width="47" height="14" fill="url(#bG)" transform="translate(568.6 1944.5) rotate(-90)"/>
<rect x="0" y="-6" width="53.58" height="12" fill="url(#bSd)" transform="translate(437.5 1944.5) rotate(35.35)"/>
<rect x="0" y="-6" width="46.37" height="12" fill="url(#bG)" transform="translate(393.8 1960) rotate(-19.53)"/>
<rect x="0" y="-6" width="46.37" height="12" fill="url(#bS)" transform="translate(350.1 1975.5) rotate(-19.53)"/>
<rect x="0" y="-6" width="53.58" height="12" fill="url(#bSd)" transform="translate(568.6 1944.5) rotate(35.35)"/>
<rect x="0" y="-6" width="46.37" height="12" fill="url(#bG)" transform="translate(524.9 1960) rotate(-19.53)"/>
<rect x="0" y="-6" width="46.37" height="12" fill="url(#bS)" transform="translate(481.2 1975.5) rotate(-19.53)"/>
<rect x="0" y="-7" width="47.5" height="14" fill="url(#bS)" transform="translate(350.1 2023) rotate(-90)"/>
<rect x="0" y="-7" width="47.5" height="14" fill="url(#bG)" transform="translate(350.1 2070.5) rotate(-90)"/>
<rect x="0" y="-7" width="47.5" height="14" fill="url(#bS)" transform="translate(481.2 2023) rotate(-90)"/>
<rect x="0" y="-7" width="47.5" height="14" fill="url(#bG)" transform="translate(481.2 2070.5) rotate(-90)"/>
<rect x="0" y="-7" width="47.5" height="14" fill="url(#bS)" transform="translate(612.3 2023) rotate(-90)"/>
<rect x="0" y="-7" width="47.5" height="14" fill="url(#bG)" transform="translate(612.3 2070.5) rotate(-90)"/>
<rect x="0" y="-6" width="53.58" height="12" fill="url(#bSd)" transform="translate(350.1 2070.5) rotate(35.35)"/>
<rect x="0" y="-6" width="53.58" height="12" fill="url(#bSd)" transform="translate(481.2 2070.5) rotate(35.35)"/>
<rect x="0" y="-6" width="46.37" height="12" fill="url(#bG)" transform="translate(437.5 2086) rotate(-19.53)"/>
<rect x="0" y="-6" width="46.37" height="12" fill="url(#bS)" transform="translate(393.8 2101.5) rotate(-19.53)"/>
<rect x="0" y="-6" width="46.37" height="12" fill="url(#bG)" transform="translate(568.6 2086) rotate(-19.53)"/>
<rect x="0" y="-6" width="46.37" height="12" fill="url(#bS)" transform="translate(524.9 2101.5) rotate(-19.53)"/>
<rect x="0" y="-7" width="47.25" height="14" fill="url(#bS)" transform="translate(393.8 2148.75) rotate(-90)"/>
<rect x="0" y="-7" width="47.25" height="14" fill="url(#bG)" transform="translate(393.8 2196) rotate(-90)"/>
<rect x="0" y="-7" width="47.25" height="14" fill="url(#bS)" transform="translate(524.9 2148.75) rotate(-90)"/>
<rect x="0" y="-7" width="47.25" height="14" fill="url(#bG)" transform="translate(524.9 2196) rotate(-90)"/>
</g>
<circle cx="393.8" cy="1441" r="18.5" fill="url(#gG)"/>
<circle cx="524.9" cy="1441" r="18.5" fill="url(#gG)"/>
<circle cx="437.5" cy="1472.5" r="17.5" fill="url(#gS)"/>
<circle cx="568.6" cy="1472.5" r="17.5" fill="url(#gS)"/>
<circle cx="437.5" cy="1566.6" r="18.5" fill="url(#gG)"/>
<circle cx="568.6" cy="1566.6" r="18.5" fill="url(#gG)"/>
<circle cx="350.1" cy="1597.3" r="17.5" fill="url(#gS)"/>
<circle cx="481.2" cy="1597.3" r="17.5" fill="url(#gS)"/>
<circle cx="612.3" cy="1597.3" r="17.5" fill="url(#gS)"/>
<circle cx="350.1" cy="1692" r="18.5" fill="url(#gG)"/>
<circle cx="481.2" cy="1692" r="18.5" fill="url(#gG)"/>
<circle cx="612.3" cy="1692" r="18.5" fill="url(#gG)"/>
<circle cx="393.8" cy="1722.5" r="17.5" fill="url(#gS)"/>
<circle cx="524.9" cy="1722.5" r="17.5" fill="url(#gS)"/>
<circle cx="393.8" cy="1818.5" r="18.5" fill="url(#gG)"/>
<circle cx="524.9" cy="1818.5" r="18.5" fill="url(#gG)"/>
<circle cx="437.5" cy="1850.5" r="17.5" fill="url(#gS)"/>
<circle cx="568.6" cy="1850.5" r="17.5" fill="url(#gS)"/>
<circle cx="437.5" cy="1944.5" r="18.5" fill="url(#gG)"/>
<circle cx="568.6" cy="1944.5" r="18.5" fill="url(#gG)"/>
<circle cx="350.1" cy="1975.5" r="17.5" fill="url(#gS)"/>
<circle cx="481.2" cy="1975.5" r="17.5" fill="url(#gS)"/>
<circle cx="612.3" cy="1975.5" r="17.5" fill="url(#gS)"/>
<circle cx="350.1" cy="2070.5" r="18.5" fill="url(#gG)"/>
<circle cx="481.2" cy="2070.5" r="18.5" fill="url(#gG)"/>
<circle cx="612.3" cy="2070.5" r="18.5" fill="url(#gG)"/>
<circle cx="393.8" cy="2101.5" r="17.5" fill="url(#gS)"/>
<circle cx="524.9" cy="2101.5" r="17.5" fill="url(#gS)"/>
<clipPath id="clipc"><rect x="0" y="1386.5" width="1808" height="780.5"/></clipPath>
<line x1="916.3" y1="1388.5" x2="916.3" y2="2167" stroke="#222" stroke-width="4.2"/>
<line x1="1187.02" y1="1388.5" x2="1187.02" y2="2167" stroke="#222" stroke-width="4.2"/>
<g clip-path="url(#clipc)">
<rect x="0" y="-6" width="54.74" height="12" fill="url(#bSd)" transform="translate(1006.54 1438.3) rotate(34.49)"/>
<rect x="0" y="-6" width="47.71" height="12" fill="url(#bG)" transform="translate(961.42 1453.8) rotate(-18.96)"/>
<rect x="0" y="-6" width="47.71" height="12" fill="url(#bS)" transform="translate(916.3 1469.3) rotate(-18.96)"/>
<rect x="0" y="-6" width="54.74" height="12" fill="url(#bSd)" transform="translate(1141.9 1438.3) rotate(34.49)"/>
<rect x="0" y="-6" width="47.71" height="12" fill="url(#bG)" transform="translate(1096.78 1453.8) rotate(-18.96)"/>
<rect x="0" y="-6" width="47.71" height="12" fill="url(#bS)" transform="translate(1051.66 1469.3) rotate(-18.96)"/>
<rect x="0" y="-7" width="48.25" height="14" fill="url(#bG)" transform="translate(1006.54 1438.3) rotate(-90)"/>
<rect x="0" y="-7" width="48.25" height="14" fill="url(#bS)" transform="translate(1006.54 1390.05) rotate(-90)"/>
<rect x="0" y="-7" width="48.25" height="14" fill="url(#bG)" transform="translate(1141.9 1438.3) rotate(-90)"/>
<rect x="0" y="-7" width="48.25" height="14" fill="url(#bS)" transform="translate(1141.9 1390.05) rotate(-90)"/>
<rect x="0" y="-7" width="48.35" height="14" fill="url(#bS)" transform="translate(916.3 1517.65) rotate(-90)"/>
<rect x="0" y="-7" width="48.35" height="14" fill="url(#bG)" transform="translate(916.3 1566) rotate(-90)"/>
<rect x="0" y="-7" width="48.35" height="14" fill="url(#bS)" transform="translate(1051.66 1517.65) rotate(-90)"/>
<rect x="0" y="-7" width="48.35" height="14" fill="url(#bG)" transform="translate(1051.66 1566) rotate(-90)"/>
<rect x="0" y="-7" width="48.35" height="14" fill="url(#bS)" transform="translate(1187.02 1517.65) rotate(-90)"/>
<rect x="0" y="-7" width="48.35" height="14" fill="url(#bG)" transform="translate(1187.02 1566) rotate(-90)"/>
<rect x="0" y="-6" width="55.32" height="12" fill="url(#bSd)" transform="translate(916.3 1566) rotate(35.35)"/>
<rect x="0" y="-6" width="55.32" height="12" fill="url(#bSd)" transform="translate(1051.66 1566) rotate(35.35)"/>
<rect x="0" y="-6" width="47.87" height="12" fill="url(#bG)" transform="translate(1006.54 1582) rotate(-19.53)"/>
<rect x="0" y="-6" width="47.87" height="12" fill="url(#bS)" transform="translate(961.42 1598) rotate(-19.53)"/>
<rect x="0" y="-6" width="47.87" height="12" fill="url(#bG)" transform="translate(1141.9 1582) rotate(-19.53)"/>
<rect x="0" y="-6" width="47.87" height="12" fill="url(#bS)" transform="translate(1096.78 1598) rotate(-19.53)"/>
<rect x="0" y="-7" width="48.4" height="14" fill="url(#bS)" transform="translate(961.42 1646.4) rotate(-90)"/>
<rect x="0" y="-7" width="48.4" height="14" fill="url(#bG)" transform="translate(961.42 1694.8) rotate(-90)"/>
<rect x="0" y="-7" width="48.4" height="14" fill="url(#bS)" transform="translate(1096.78 1646.4) rotate(-90)"/>
<rect x="0" y="-7" width="48.4" height="14" fill="url(#bG)" transform="translate(1096.78 1694.8) rotate(-90)"/>
<rect x="0" y="-6" width="54.74" height="12" fill="url(#bSd)" transform="translate(961.42 1694.8) rotate(34.49)"/>
<rect x="0" y="-6" width="47.71" height="12" fill="url(#bG)" transform="translate(916.3 1710.3) rotate(-18.96)"/>
<rect x="0" y="-6" width="54.74" height="12" fill="url(#bSd)" transform="translate(1096.78 1694.8) rotate(34.49)"/>
<rect x="0" y="-6" width="47.71" height="12" fill="url(#bG)" transform="translate(1051.66 1710.3) rotate(-18.96)"/>
<rect x="0" y="-6" width="47.71" height="12" fill="url(#bS)" transform="translate(1006.54 1725.8) rotate(-18.96)"/>
<rect x="0" y="-6" width="47.71" height="12" fill="url(#bS)" transform="translate(1141.9 1725.8) rotate(-18.96)"/>
<rect x="0" y="-7" width="47.6" height="14" fill="url(#bS)" transform="translate(1006.54 1773.4) rotate(-90)"/>
<rect x="0" y="-7" width="47.6" height="14" fill="url(#bG)" transform="translate(1006.54 1821) rotate(-90)"/>
<rect x="0" y="-7" width="47.6" height="14" fill="url(#bS)" transform="translate(1141.9 1773.4) rotate(-90)"/>
<rect x="0" y="-7" width="47.6" height="14" fill="url(#bG)" transform="translate(1141.9 1821) rotate(-90)"/>
<rect x="0" y="-7" width="48.15" height="14" fill="url(#bS)" transform="translate(1006.54 1909.15) rotate(-90)"/>
<rect x="0" y="-7" width="48.15" height="14" fill="url(#bG)" transform="translate(1006.54 1957.3) rotate(-90)"/>
<rect x="0" y="-7" width="48.15" height="14" fill="url(#bS)" transform="translate(1141.9 1909.15) rotate(-90)"/>
<rect x="0" y="-7" width="48.15" height="14" fill="url(#bG)" transform="translate(1141.9 1957.3) rotate(-90)"/>
<rect x="0" y="-6" width="55.32" height="12" fill="url(#bSd)" transform="translate(1006.54 1957.3) rotate(35.35)"/>
<rect x="0" y="-6" width="47.87" height="12" fill="url(#bG)" transform="translate(961.42 1973.3) rotate(-19.53)"/>
<rect x="0" y="-6" width="47.87" height="12" fill="url(#bS)" transform="translate(916.3 1989.3) rotate(-19.53)"/>
<rect x="0" y="-6" width="55.32" height="12" fill="url(#bSd)" transform="translate(1141.9 1957.3) rotate(35.35)"/>
<rect x="0" y="-6" width="47.87" height="12" fill="url(#bG)" transform="translate(1096.78 1973.3) rotate(-19.53)"/>
<rect x="0" y="-6" width="47.87" height="12" fill="url(#bS)" transform="translate(1051.66 1989.3) rotate(-19.53)"/>
<rect x="0" y="-7" width="48.35" height="14" fill="url(#bS)" transform="translate(916.3 2037.65) rotate(-90)"/>
<rect x="0" y="-7" width="48.35" height="14" fill="url(#bG)" transform="translate(916.3 2086) rotate(-90)"/>
<rect x="0" y="-7" width="48.35" height="14" fill="url(#bS)" transform="translate(1051.66 2037.65) rotate(-90)"/>
<rect x="0" y="-7" width="48.35" height="14" fill="url(#bG)" transform="translate(1051.66 2086) rotate(-90)"/>
<rect x="0" y="-7" width="48.35" height="14" fill="url(#bS)" transform="translate(1187.02 2037.65) rotate(-90)"/>
<rect x="0" y="-7" width="48.35" height="14" fill="url(#bG)" transform="translate(1187.02 2086) rotate(-90)"/>
<rect x="0" y="-6" width="55.32" height="12" fill="url(#bSd)" transform="translate(916.3 2086) rotate(35.35)"/>
<rect x="0" y="-6" width="55.32" height="12" fill="url(#bSd)" transform="translate(1051.66 2086) rotate(35.35)"/>
<rect x="0" y="-6" width="47.87" height="12" fill="url(#bG)" transform="translate(1006.54 2102) rotate(-19.53)"/>
<rect x="0" y="-6" width="47.87" height="12" fill="url(#bS)" transform="translate(961.42 2118) rotate(-19.53)"/>
<rect x="0" y="-6" width="47.87" height="12" fill="url(#bG)" transform="translate(1141.9 2102) rotate(-19.53)"/>
<rect x="0" y="-6" width="47.87" height="12" fill="url(#bS)" transform="translate(1096.78 2118) rotate(-19.53)"/>
<rect x="0" y="-7" width="48.25" height="14" fill="url(#bS)" transform="translate(961.42 2166.25) rotate(-90)"/>
<rect x="0" y="-7" width="48.25" height="14" fill="url(#bG)" transform="translate(961.42 2214.5) rotate(-90)"/>
<rect x="0" y="-7" width="48.25" height="14" fill="url(#bS)" transform="translate(1096.78 2166.25) rotate(-90)"/>
<rect x="0" y="-7" width="48.25" height="14" fill="url(#bG)" transform="translate(1096.78 2214.5) rotate(-90)"/>
</g>
<circle cx="1006.54" cy="1438.3" r="18.5" fill="url(#gG)"/>
<circle cx="1141.9" cy="1438.3" r="18.5" fill="url(#gG)"/>
<circle cx="916.3" cy="1469.3" r="17.5" fill="url(#gS)"/>
<circle cx="1051.66" cy="1469.3" r="17.5" fill="url(#gS)"/>
<circle cx="1187.02" cy="1469.3" r="17.5" fill="url(#gS)"/>
<circle cx="916.3" cy="1566" r="18.5" fill="url(#gG)"/>
<circle cx="1051.66" cy="1566" r="18.5" fill="url(#gG)"/>
<circle cx="1187.02" cy="1566" r="18.5" fill="url(#gG)"/>
<circle cx="961.42" cy="1598" r="17.5" fill="url(#gS)"/>
<circle cx="1096.78" cy="1598" r="17.5" fill="url(#gS)"/>
<circle cx="961.42" cy="1694.8" r="18.5" fill="url(#gG)"/>
<circle cx="1096.78" cy="1694.8" r="18.5" fill="url(#gG)"/>
<circle cx="1006.54" cy="1725.8" r="17.5" fill="url(#gS)"/>
<circle cx="1141.9" cy="1725.8" r="17.5" fill="url(#gS)"/>
<circle cx="1006.54" cy="1821" r="18.5" fill="url(#gG)"/>
<circle cx="1141.9" cy="1821" r="18.5" fill="url(#gG)"/>
<circle cx="1006.54" cy="1861" r="17.5" fill="url(#gS)"/>
<circle cx="1141.9" cy="1861" r="17.5" fill="url(#gS)"/>
<circle cx="1006.54" cy="1957.3" r="18.5" fill="url(#gG)"/>
<circle cx="1141.9" cy="1957.3" r="18.5" fill="url(#gG)"/>
<circle cx="916.3" cy="1989.3" r="17.5" fill="url(#gS)"/>
<circle cx="1051.66" cy="1989.3" r="17.5" fill="url(#gS)"/>
<circle cx="1187.02" cy="1989.3" r="17.5" fill="url(#gS)"/>
<circle cx="916.3" cy="2086" r="18.5" fill="url(#gG)"/>
<circle cx="1051.66" cy="2086" r="18.5" fill="url(#gG)"/>
<circle cx="1187.02" cy="2086" r="18.5" fill="url(#gG)"/>
<circle cx="961.42" cy="2118" r="17.5" fill="url(#gS)"/>
<circle cx="1096.78" cy="2118" r="17.5" fill="url(#gS)"/>
<clipPath id="clipd"><rect x="0" y="1380" width="1808" height="772.4"/></clipPath>
<line x1="1451" y1="1380" x2="1451" y2="2160.6" stroke="#222" stroke-width="4.2"/>
<line x1="1712.6" y1="1380" x2="1712.6" y2="2160.6" stroke="#222" stroke-width="4.2"/>
<g clip-path="url(#clipd)">
<rect x="0" y="-6" width="53.5" height="12" fill="url(#bSd)" transform="translate(1451 1435.8) rotate(35.41)"/>
<rect x="0" y="-6" width="53.5" height="12" fill="url(#bSd)" transform="translate(1581.8 1435.8) rotate(35.41)"/>
<rect x="0" y="-6" width="46.27" height="12" fill="url(#bG)" transform="translate(1538.2 1451.3) rotate(-19.57)"/>
<rect x="0" y="-6" width="46.27" height="12" fill="url(#bS)" transform="translate(1494.6 1466.8) rotate(-19.57)"/>
<rect x="0" y="-6" width="46.27" height="12" fill="url(#bG)" transform="translate(1669 1451.3) rotate(-19.57)"/>
<rect x="0" y="-6" width="46.27" height="12" fill="url(#bS)" transform="translate(1625.4 1466.8) rotate(-19.57)"/>
<rect x="0" y="-7" width="47.5" height="14" fill="url(#bG)" transform="translate(1451 1435.8) rotate(-90)"/>
<rect x="0" y="-7" width="47.5" height="14" fill="url(#bS)" transform="translate(1451 1388.3) rotate(-90)"/>
<rect x="0" y="-7" width="47.5" height="14" fill="url(#bG)" transform="translate(1581.8 1435.8) rotate(-90)"/>
<rect x="0" y="-7" width="47.5" height="14" fill="url(#bS)" transform="translate(1581.8 1388.3) rotate(-90)"/>
<rect x="0" y="-7" width="47.5" height="14" fill="url(#bG)" transform="translate(1712.6 1435.8) rotate(-90)"/>
<rect x="0" y="-7" width="47.5" height="14" fill="url(#bS)" transform="translate(1712.6 1388.3) rotate(-90)"/>
<rect x="0" y="-7" width="47.5" height="14" fill="url(#bS)" transform="translate(1494.6 1514.3) rotate(-90)"/>
<rect x="0" y="-7" width="47.5" height="14" fill="url(#bG)" transform="translate(1494.6 1561.8) rotate(-90)"/>
<rect x="0" y="-7" width="47.5" height="14" fill="url(#bS)" transform="translate(1625.4 1514.3) rotate(-90)"/>
<rect x="0" y="-7" width="47.5" height="14" fill="url(#bG)" transform="translate(1625.4 1561.8) rotate(-90)"/>
<rect x="0" y="-6" width="53.5" height="12" fill="url(#bSd)" transform="translate(1494.6 1561.8) rotate(35.41)"/>
<rect x="0" y="-6" width="46.27" height="12" fill="url(#bG)" transform="translate(1451 1577.3) rotate(-19.57)"/>
<rect x="0" y="-6" width="53.5" height="12" fill="url(#bSd)" transform="translate(1625.4 1561.8) rotate(35.41)"/>
<rect x="0" y="-6" width="46.27" height="12" fill="url(#bG)" transform="translate(1581.8 1577.3) rotate(-19.57)"/>
<rect x="0" y="-6" width="46.27" height="12" fill="url(#bS)" transform="translate(1538.2 1592.8) rotate(-19.57)"/>
<rect x="0" y="-6" width="46.27" height="12" fill="url(#bS)" transform="translate(1669 1592.8) rotate(-19.57)"/>
<rect x="0" y="-7" width="48.1" height="14" fill="url(#bS)" transform="translate(1538.2 1640.9) rotate(-90)"/>
<rect x="0" y="-7" width="48.1" height="14" fill="url(#bG)" transform="translate(1538.2 1689) rotate(-90)"/>
<rect x="0" y="-7" width="48.1" height="14" fill="url(#bS)" transform="translate(1669 1640.9) rotate(-90)"/>
<rect x="0" y="-7" width="48.1" height="14" fill="url(#bG)" transform="translate(1669 1689) rotate(-90)"/>
<rect x="0" y="-6" width="53.5" height="12" fill="url(#bSd)" transform="translate(1538.2 1689) rotate(35.41)"/>
<rect x="0" y="-6" width="46.27" height="12" fill="url(#bG)" transform="translate(1494.6 1704.5) rotate(-19.57)"/>
<rect x="0" y="-6" width="46.27" height="12" fill="url(#bS)" transform="translate(1451 1720) rotate(-19.57)"/>
<rect x="0" y="-6" width="53.5" height="12" fill="url(#bSd)" transform="translate(1669 1689) rotate(35.41)"/>
<rect x="0" y="-6" width="46.27" height="12" fill="url(#bG)" transform="translate(1625.4 1704.5) rotate(-19.57)"/>
<rect x="0" y="-6" width="46.27" height="12" fill="url(#bS)" transform="translate(1581.8 1720) rotate(-19.57)"/>
<rect x="0" y="-7" width="47.9" height="14" fill="url(#bS)" transform="translate(1451 1767.9) rotate(-90)"/>
<rect x="0" y="-7" width="47.9" height="14" fill="url(#bG)" transform="translate(1451 1815.8) rotate(-90)"/>
<rect x="0" y="-7" width="47.9" height="14" fill="url(#bS)" transform="translate(1581.8 1767.9) rotate(-90)"/>
<rect x="0" y="-7" width="47.9" height="14" fill="url(#bG)" transform="translate(1581.8 1815.8) rotate(-90)"/>
<rect x="0" y="-7" width="47.9" height="14" fill="url(#bS)" transform="translate(1712.6 1767.9) rotate(-90)"/>
<rect x="0" y="-7" width="47.9" height="14" fill="url(#bG)" transform="translate(1712.6 1815.8) rotate(-90)"/>
<rect x="0" y="-6" width="46.44" height="12" fill="url(#bG)" transform="translate(1451 1815.8) rotate(20.15)"/>
<rect x="0" y="-6" width="46.44" height="12" fill="url(#bS)" transform="translate(1494.6 1831.8) rotate(20.15)"/>
<rect x="0" y="-6" width="54.08" height="12" fill="url(#bSd)" transform="translate(1538.2 1847.8) rotate(-36.28)"/>
<rect x="0" y="-6" width="46.44" height="12" fill="url(#bG)" transform="translate(1581.8 1815.8) rotate(20.15)"/>
<rect x="0" y="-6" width="46.44" height="12" fill="url(#bS)" transform="translate(1625.4 1831.8) rotate(20.15)"/>
<rect x="0" y="-6" width="54.08" height="12" fill="url(#bSd)" transform="translate(1669 1847.8) rotate(-36.28)"/>
<rect x="0" y="-7" width="48.1" height="14" fill="url(#bS)" transform="translate(1538.2 1895.9) rotate(-90)"/>
<rect x="0" y="-7" width="48.1" height="14" fill="url(#bG)" transform="translate(1538.2 1944) rotate(-90)"/>
<rect x="0" y="-7" width="48.1" height="14" fill="url(#bS)" transform="translate(1669 1895.9) rotate(-90)"/>
<rect x="0" y="-7" width="48.1" height="14" fill="url(#bG)" transform="translate(1669 1944) rotate(-90)"/>
<rect x="0" y="-6" width="53.5" height="12" fill="url(#bSd)" transform="translate(1538.2 1944) rotate(35.41)"/>
<rect x="0" y="-6" width="46.27" height="12" fill="url(#bG)" transform="translate(1494.6 1959.5) rotate(-19.57)"/>
<rect x="0" y="-6" width="46.27" height="12" fill="url(#bS)" transform="translate(1451 1975) rotate(-19.57)"/>
<rect x="0" y="-6" width="53.5" height="12" fill="url(#bSd)" transform="translate(1669 1944) rotate(35.41)"/>
<rect x="0" y="-6" width="46.27" height="12" fill="url(#bG)" transform="translate(1625.4 1959.5) rotate(-19.57)"/>
<rect x="0" y="-6" width="46.27" height="12" fill="url(#bS)" transform="translate(1581.8 1975) rotate(-19.57)"/>
<rect x="0" y="-7" width="47.9" height="14" fill="url(#bS)" transform="translate(1451 2022.9) rotate(-90)"/>
<rect x="0" y="-7" width="47.9" height="14" fill="url(#bG)" transform="translate(1451 2070.8) rotate(-90)"/>
<rect x="0" y="-7" width="47.9" height="14" fill="url(#bS)" transform="translate(1581.8 2022.9) rotate(-90)"/>
<rect x="0" y="-7" width="47.9" height="14" fill="url(#bG)" transform="translate(1581.8 2070.8) rotate(-90)"/>
<rect x="0" y="-7" width="47.9" height="14" fill="url(#bS)" transform="translate(1712.6 2022.9) rotate(-90)"/>
<rect x="0" y="-7" width="47.9" height="14" fill="url(#bG)" transform="translate(1712.6 2070.8) rotate(-90)"/>
<rect x="0" y="-6" width="53.5" height="12" fill="url(#bSd)" transform="translate(1451 2070.8) rotate(35.41)"/>
<rect x="0" y="-6" width="53.5" height="12" fill="url(#bSd)" transform="translate(1581.8 2070.8) rotate(35.41)"/>
<rect x="0" y="-6" width="46.27" height="12" fill="url(#bG)" transform="translate(1538.2 2086.3) rotate(-19.57)"/>
<rect x="0" y="-6" width="46.27" height="12" fill="url(#bS)" transform="translate(1494.6 2101.8) rotate(-19.57)"/>
<rect x="0" y="-6" width="46.27" height="12" fill="url(#bG)" transform="translate(1669 2086.3) rotate(-19.57)"/>
<rect x="0" y="-6" width="46.27" height="12" fill="url(#bS)" transform="translate(1625.4 2101.8) rotate(-19.57)"/>
<rect x="0" y="-7" width="47.5" height="14" fill="url(#bS)" transform="translate(1494.6 2149.3) rotate(-90)"/>
<rect x="0" y="-7" width="47.5" height="14" fill="url(#bG)" transform="translate(1494.6 2196.8) rotate(-90)"/>
<rect x="0" y="-7" width="47.5" height="14" fill="url(#bS)" transform="translate(1625.4 2149.3) rotate(-90)"/>
<rect x="0" y="-7" width="47.5" height="14" fill="url(#bG)" transform="translate(1625.4 2196.8) rotate(-90)"/>
</g>
<circle cx="1451" cy="1435.8" r="18.5" fill="url(#gG)"/>
<circle cx="1581.8" cy="1435.8" r="18.5" fill="url(#gG)"/>
<circle cx="1712.6" cy="1435.8" r="18.5" fill="url(#gG)"/>
<circle cx="1494.6" cy="1466.8" r="17.5" fill="url(#gS)"/>
<circle cx="1625.4" cy="1466.8" r="17.5" fill="url(#gS)"/>
<circle cx="1494.6" cy="1561.8" r="18.5" fill="url(#gG)"/>
<circle cx="1625.4" cy="1561.8" r="18.5" fill="url(#gG)"/>
<circle cx="1538.2" cy="1592.8" r="17.5" fill="url(#gS)"/>
<circle cx="1669" cy="1592.8" r="17.5" fill="url(#gS)"/>
<circle cx="1538.2" cy="1689" r="18.5" fill="url(#gG)"/>
<circle cx="1669" cy="1689" r="18.5" fill="url(#gG)"/>
<circle cx="1451" cy="1720" r="17.5" fill="url(#gS)"/>
<circle cx="1581.8" cy="1720" r="17.5" fill="url(#gS)"/>
<circle cx="1712.6" cy="1720" r="17.5" fill="url(#gS)"/>
<circle cx="1451" cy="1815.8" r="18.5" fill="url(#gG)"/>
<circle cx="1581.8" cy="1815.8" r="18.5" fill="url(#gG)"/>
<circle cx="1712.6" cy="1815.8" r="18.5" fill="url(#gG)"/>
<circle cx="1538.2" cy="1847.8" r="17.5" fill="url(#gS)"/>
<circle cx="1669" cy="1847.8" r="17.5" fill="url(#gS)"/>
<circle cx="1538.2" cy="1944" r="18.5" fill="url(#gG)"/>
<circle cx="1669" cy="1944" r="18.5" fill="url(#gG)"/>
<circle cx="1451" cy="1975" r="17.5" fill="url(#gS)"/>
<circle cx="1581.8" cy="1975" r="17.5" fill="url(#gS)"/>
<circle cx="1712.6" cy="1975" r="17.5" fill="url(#gS)"/>
<circle cx="1451" cy="2070.8" r="18.5" fill="url(#gG)"/>
<circle cx="1581.8" cy="2070.8" r="18.5" fill="url(#gG)"/>
<circle cx="1712.6" cy="2070.8" r="18.5" fill="url(#gG)"/>
<circle cx="1494.6" cy="2101.8" r="17.5" fill="url(#gS)"/>
<circle cx="1625.4" cy="2101.8" r="17.5" fill="url(#gS)"/>
<line x1="1006.54" y1="1391" x2="1006.54" y2="1457" stroke="#0a2a12" stroke-opacity="0.5" stroke-width="3"/>
<line x1="1006.54" y1="1708" x2="1006.54" y2="1840" stroke="#0a2a12" stroke-opacity="0.5" stroke-width="3"/>
<line x1="1006.54" y1="1843" x2="1006.54" y2="1850" stroke="#0a2a12" stroke-opacity="0.5" stroke-width="3"/>
<line x1="1141.9" y1="1391" x2="1141.9" y2="1457" stroke="#0a2a12" stroke-opacity="0.5" stroke-width="3"/>
<line x1="1141.9" y1="1708" x2="1141.9" y2="1840" stroke="#0a2a12" stroke-opacity="0.5" stroke-width="3"/>
<line x1="1141.9" y1="1843" x2="1141.9" y2="1850" stroke="#0a2a12" stroke-opacity="0.5" stroke-width="3"/>
<line x1="27.5" y1="1836" x2="1716.7" y2="1836" stroke="#ff00ff" stroke-width="5"/>
<rect x="1422" y="1673" width="311.5" height="325" fill="rgba(255,248,0,0.26)" stroke="rgba(255,248,0,0.3)" stroke-width="2"/>
<text x="639.7" y="1441.3" font-family="'Noto Serif CJK SC', 'Noto Serif CJK JP', serif" font-size="53" fill="#ff0000">&#947;</text>
<text x="634.2" y="1495.5" font-family="'Liberation Serif', 'Times New Roman', serif" font-size="59" fill="#ff0000">C</text>
<text x="636.5" y="1573" font-family="'Liberation Serif', 'Times New Roman', serif" font-size="55" fill="#ff0000">&#946;</text>
<text x="634.5" y="1630" font-family="'Liberation Serif', 'Times New Roman', serif" font-size="55" fill="#ff0000">B</text>
<text x="638.2" y="1695.5" font-family="'Liberation Serif', 'Times New Roman', serif" font-size="55" fill="#ff0000">&#945;</text>
<text x="633.6" y="1749.5" font-family="'Liberation Serif', 'Times New Roman', serif" font-size="55" fill="#ff0000">A</text>
<text x="640" y="1825.4" font-family="'Noto Serif CJK SC', 'Noto Serif CJK JP', serif" font-size="53" fill="#ff0000">&#947;</text>
<text x="634.6" y="1879.5" font-family="'Liberation Serif', 'Times New Roman', serif" font-size="59" fill="#ff0000">C</text>
<text x="635" y="1943.5" font-family="'Liberation Serif', 'Times New Roman', serif" font-size="55" fill="#ff0000">&#946;</text>
<text x="632.6" y="2000" font-family="'Liberation Serif', 'Times New Roman', serif" font-size="55" fill="#ff0000">B</text>
<text x="637" y="2069" font-family="'Liberation Serif', 'Times New Roman', serif" font-size="55" fill="#ff0000">&#945;</text>
<text x="633.6" y="2124.5" font-family="'Liberation Serif', 'Times New Roman', serif" font-size="55" fill="#ff0000">A</text>
<text x="1746" y="1436" font-family="'Liberation Serif', 'Times New Roman', serif" font-size="55" fill="#ff0000">&#945;</text>
<text x="1742.5" y="1489.7" font-family="'Liberation Serif', 'Times New Roman', serif" font-size="55" fill="#ff0000">A</text>
<text x="1750" y="1562.5" font-family="'Noto Serif CJK SC', 'Noto Serif CJK JP', serif" font-size="53" fill="#ff0000">&#947;</text>
<text x="1740" y="1619.5" font-family="'Liberation Serif', 'Times New Roman', serif" font-size="59" fill="#ff0000">C</text>
<text x="1745" y="1699" font-family="'Liberation Serif', 'Times New Roman', serif" font-size="55" fill="#ff0000">&#946;</text>
<text x="1741.5" y="1755.6" font-family="'Liberation Serif', 'Times New Roman', serif" font-size="55" fill="#ff0000">B</text>
<text x="1744.8" y="1821.5" font-family="'Liberation Serif', 'Times New Roman', serif" font-size="55" fill="#ff0000">&#945;</text>
<text x="1737.8" y="1877.5" font-family="'Liberation Serif', 'Times New Roman', serif" font-size="59" fill="#ff0000">C</text>
<text x="1743.6" y="1961.5" font-family="'Liberation Serif', 'Times New Roman', serif" font-size="55" fill="#ff0000">&#946;</text>
<text x="1740.4" y="2017.6" font-family="'Liberation Serif', 'Times New Roman', serif" font-size="55" fill="#ff0000">B</text>
<text x="1744" y="2083.5" font-family="'Liberation Serif', 'Times New Roman', serif" font-size="55" fill="#ff0000">&#945;</text>
<text x="1740" y="2137" font-family="'Liberation Serif', 'Times New Roman', serif" font-size="55" fill="#ff0000">A</text>
<text x="206" y="1398" font-family="'Liberation Serif', 'Times New Roman', serif" font-size="85" fill="#000">(b)</text>
<text x="773" y="1398" font-family="'Liberation Serif', 'Times New Roman', serif" font-size="85" fill="#000">(c)</text>
<text x="1307" y="1406" font-family="'Liberation Serif', 'Times New Roman', serif" font-size="85" fill="#000">(d)</text>
<text x="20" y="1812.4" font-family="'Liberation Serif', 'Times New Roman', serif" font-size="55" fill="#000">glide-set plane</text>
<text x="74.9" y="2078.7" font-family="NanumGothic, 'Liberation Sans', sans-serif" font-size="50" fill="#ff0000">[111]</text>
<text x="314.6" y="2276" font-family="NanumGothic, 'Liberation Sans', sans-serif" font-size="50" fill="#ff0000">[112]</text>
<rect x="392.5" y="2227.5" width="29.4" height="5.2" fill="#ff0000"/>
<path d="M134.7 2124 L134.7 2249.6 L266 2249.6" fill="none" stroke="#ff0000" stroke-width="7" stroke-linejoin="miter"/>
<path d="M134.7 2101 L146.5 2130.5 L122.9 2130.5 Z" fill="#ff0000"/>
<path d="M290.3 2249.6 L261 2237.3 L261 2261.9 Z" fill="#ff0000"/>
</svg>
</body></html>
